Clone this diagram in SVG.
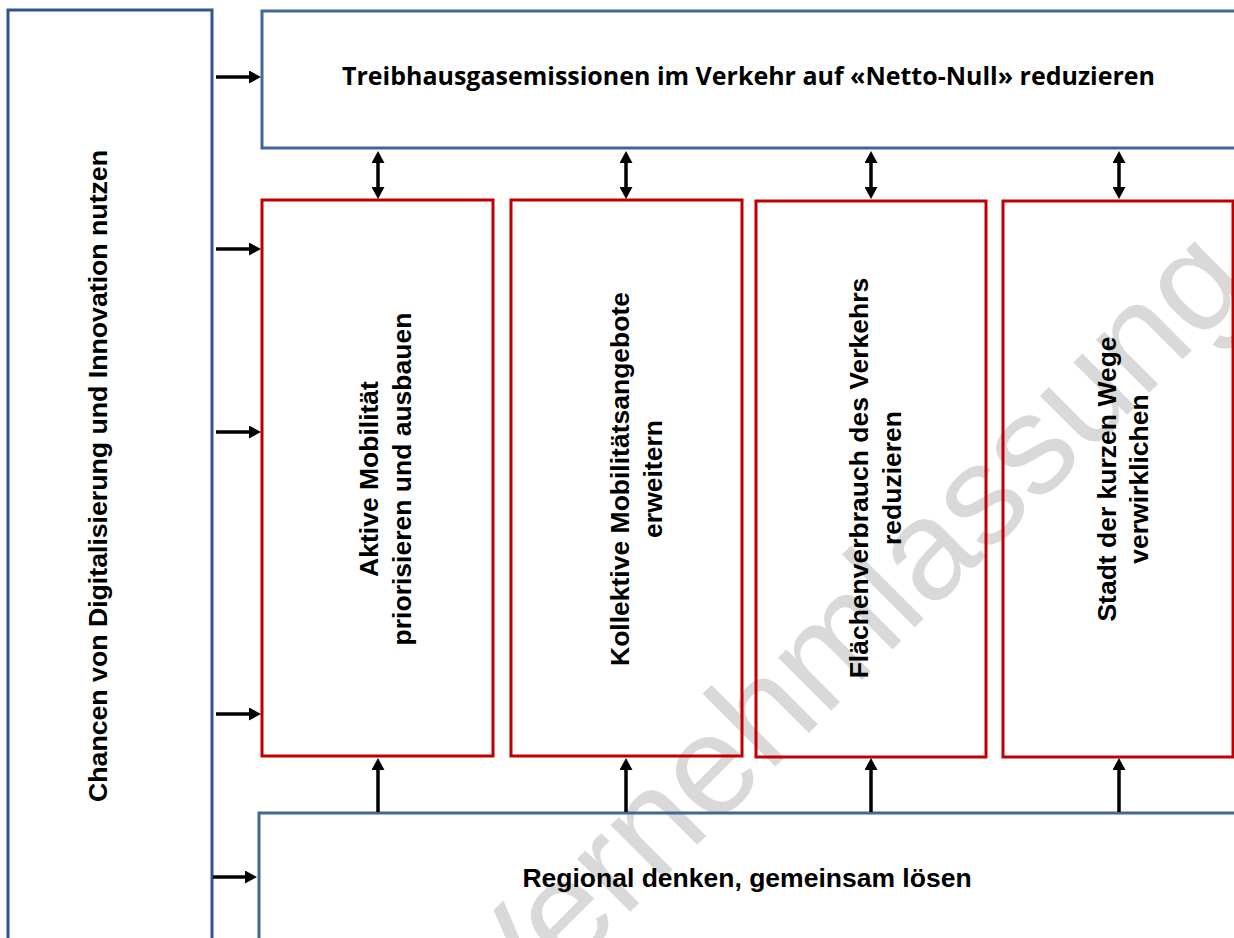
<svg xmlns="http://www.w3.org/2000/svg" width="1234" height="938" viewBox="0 0 1234 938">
<defs>
<style>
.blue{fill:none;stroke:#2f5590;stroke-width:3}
.blue2{fill:none;stroke:#41679a;stroke-width:3}
.red{fill:none;stroke:#c00000;stroke-width:3}
.t{font-family:"Liberation Sans",Arial,sans-serif;font-weight:bold;font-size:26.5px;fill:#000}
.title{font-family:"Open Sans","Liberation Sans",sans-serif;font-weight:bold;font-size:25px;fill:#000}
.wm{font-family:"Liberation Sans",Arial,sans-serif;font-size:142px;fill:#d9d9d9}
.c{stroke:#000;stroke-width:3.5;fill:none}
</style>
<marker id="ah" viewBox="0 0 12 13" markerUnits="userSpaceOnUse" markerWidth="12" markerHeight="13" refX="2" refY="6.5" orient="auto-start-reverse">
<path d="M0,0 L12,6.5 L0,13 z" fill="#000"/>
</marker>
</defs>
<rect x="0" y="0" width="1234" height="938" fill="#fff"/>
<text class="wm" x="880" y="662" text-anchor="middle" transform="rotate(-45 880 662)">Vernehmlassung</text>

<g id="left">
<rect class="blue" x="8" y="10" width="204" height="940"/>
<text class="t" x="107" y="476" text-anchor="middle" textLength="652" lengthAdjust="spacingAndGlyphs" transform="rotate(-90 107 476)">Chancen von Digitalisierung und Innovation nutzen</text>
</g>
<g id="top">
<rect class="blue2" x="262" y="11" width="1000" height="137"/>
<text class="title" x="748.5" y="85" text-anchor="middle" textLength="813" lengthAdjust="spacingAndGlyphs">Treibhausgasemissionen im Verkehr auf «Netto-Null» reduzieren</text>
</g>
<g id="box1">
<rect class="red" x="262" y="200" width="231" height="556"/>
<text class="t" text-anchor="middle" transform="translate(378 479) rotate(-90)"><tspan x="0" y="0">Aktive Mobilität</tspan><tspan x="0" y="33">priorisieren und ausbauen</tspan></text>
</g>
<g id="box2">
<rect class="red" x="511" y="200" width="231" height="556"/>
<text class="t" text-anchor="middle" transform="translate(629 479) rotate(-90)"><tspan x="0" y="0">Kollektive Mobilitätsangebote</tspan><tspan x="0" y="32.5">erweitern</tspan></text>
</g>
<g id="box3">
<rect class="red" x="756" y="201" width="230" height="556"/>
<text class="t" text-anchor="middle" transform="translate(868 478) rotate(-90)"><tspan x="0" y="0">Flächenverbrauch des Verkehrs</tspan><tspan x="0" y="33">reduzieren</tspan></text>
</g>
<g id="box4">
<rect class="red" x="1003" y="201" width="230" height="556"/>
<text class="t" text-anchor="middle" transform="translate(1116 479) rotate(-90)"><tspan x="0" y="0">Stadt der kurzen Wege</tspan><tspan x="0" y="32">verwirklichen</tspan></text>
</g>
<g id="bottom">
<rect class="blue2" x="259" y="813" width="1000" height="200"/>
<text class="t" x="747" y="887" text-anchor="middle">Regional denken, gemeinsam lösen</text>
</g>

<g id="connectors">
<line class="c" x1="216" y1="77" x2="251" y2="77" marker-end="url(#ah)"/>
<line class="c" x1="216" y1="249" x2="251" y2="249" marker-end="url(#ah)"/>
<line class="c" x1="216" y1="432" x2="251" y2="432" marker-end="url(#ah)"/>
<line class="c" x1="216" y1="714" x2="251" y2="714" marker-end="url(#ah)"/>
<line class="c" x1="213" y1="877" x2="247" y2="877" marker-end="url(#ah)"/>
<line class="c" x1="378" y1="161" x2="378" y2="189" marker-start="url(#ah)" marker-end="url(#ah)"/>
<line class="c" x1="626" y1="161" x2="626" y2="189" marker-start="url(#ah)" marker-end="url(#ah)"/>
<line class="c" x1="871" y1="161" x2="871" y2="189" marker-start="url(#ah)" marker-end="url(#ah)"/>
<line class="c" x1="1119" y1="161" x2="1119" y2="189" marker-start="url(#ah)" marker-end="url(#ah)"/>
<line class="c" x1="378" y1="812" x2="378" y2="768" marker-end="url(#ah)"/>
<line class="c" x1="626" y1="812" x2="626" y2="768" marker-end="url(#ah)"/>
<line class="c" x1="871" y1="812" x2="871" y2="768" marker-end="url(#ah)"/>
<line class="c" x1="1119" y1="812" x2="1119" y2="768" marker-end="url(#ah)"/>
</g>
</svg>
